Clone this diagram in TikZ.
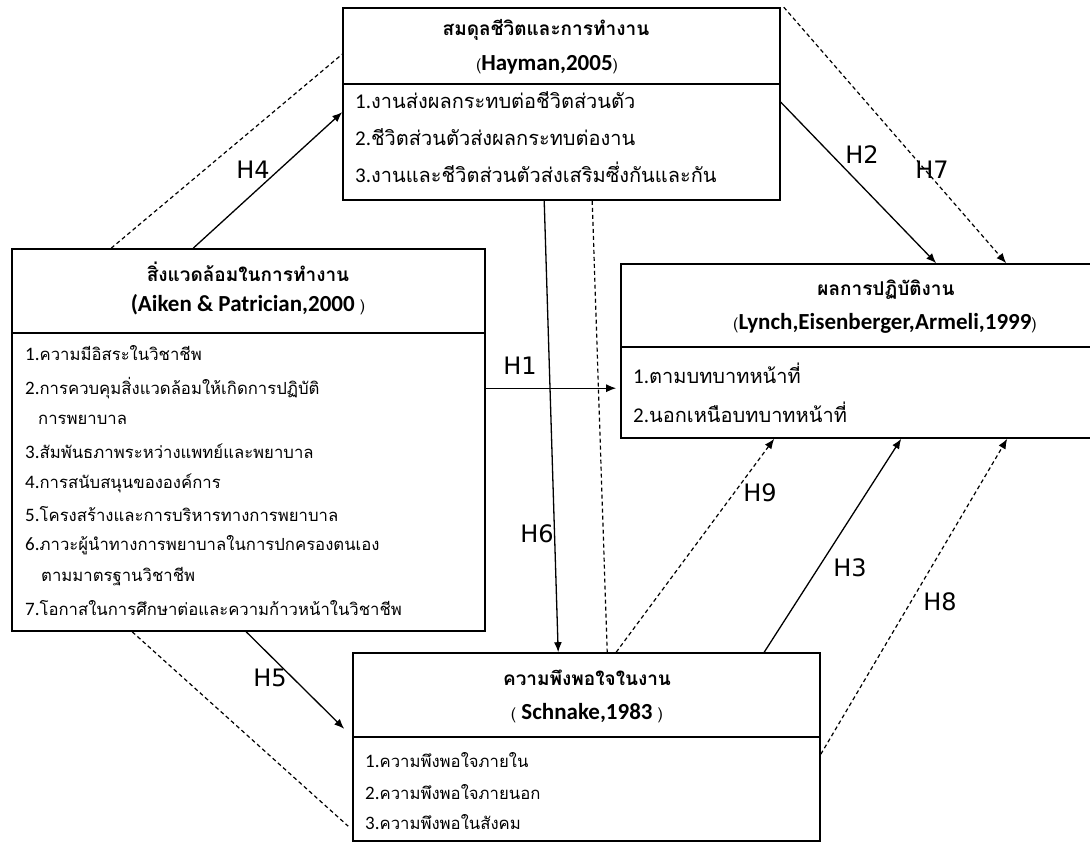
\documentclass[tikz,border=0pt]{standalone}
\usepackage{fontspec}
\setmainfont{Carlito}
\newfontfamily\thaifont[Script=Thai]{Loma}
\newfontfamily\lblfont{DejaVu Sans}
\usetikzlibrary{arrows.meta}

\tikzset{
  box/.style={draw, line width=1.6pt, inner sep=0pt},
  ttl/.style={font=\thaifont\bfseries\fontsize{19}{22}\selectfont, inner sep=0pt},
  ref/.style={font=\bfseries\fontsize{23}{25}\selectfont, inner sep=0pt},
  bigitem/.style={anchor=west, inner sep=0pt, font=\fontsize{21}{24}\selectfont},
  smallitem/.style={anchor=west, inner sep=0pt, font=\fontsize{19}{22}\selectfont},
  hlabel/.style={font=\lblfont\fontsize{24}{26}\selectfont, inner sep=1pt},
  link/.style={line width=1.3pt, -{Latex[length=10pt,width=8pt]}},
  dlink/.style={line width=1.2pt, dash pattern=on 4pt off 3pt},
}
\newcommand{\thb}[1]{{\thaifont\fontsize{20}{24}\selectfont #1}}
\newcommand{\ths}[1]{{\thaifont\fontsize{16.7}{20}\selectfont #1}}
\newcommand{\paren}[1]{{\mdseries\thaifont\fontsize{16}{20}\selectfont #1}}

\begin{document}
\begin{tikzpicture}[x=1pt, y=-1pt]
  \useasboundingbox (0,0) rectangle (1090,843);

  % boxes
  \node[box, minimum width=437, minimum height=76] (wlbh) at (561.5,46) {};
  \node[box, minimum width=437, minimum height=116] (wlbb) at (561.5,142) {};
  \node[box, minimum width=473, minimum height=84] (envh) at (248.5,291) {};
  \node[box, minimum width=473, minimum height=298] (envb) at (248.5,482) {};
  \node[box, minimum width=479, minimum height=83] (perfh) at (860.5,305.5) {};
  \node[box, minimum width=479, minimum height=91] (perfb) at (860.5,392.5) {};
  \node[box, minimum width=467, minimum height=84] (sath) at (586.5,695) {};
  \node[box, minimum width=467, minimum height=104] (satb) at (586.5,789) {};

  % headers
  \node[ttl] (wlbt) at (546,30) {สมดุลชีวิตและการทำงาน};
  \node[ref] (wlbr) at (547,65) {\paren{(}Hayman,2005\paren{)}};
  \node[ttl] (envt) at (248,272) {สิ่งแวดล้อมในการทำงาน};
  \node[ref] (envr) at (248,305) {(Aiken \& Patrician,2000 \paren{)}};
  \node[ttl] (perft) at (886,290) {ผลการปฏิบัติงาน};
  \node[ref] (perfr) at (885,323) {\paren{(}Lynch,Eisenberger,Armeli,1999\paren{)}};
  \node[ttl] (satt) at (587,678) {ความพึงพอใจในงาน};
  \node[ref] (satr) at (587,713) {\paren{(} Schnake,1983 \paren{)}};

  % items
  \node[bigitem] (wlb1) at (355,100) {1.\thb{งานส่งผลกระทบต่อชีวิตส่วนตัว}};
  \node[bigitem] (wlb2) at (355,137) {2.\thb{ชีวิตส่วนตัวส่งผลกระทบต่องาน}};
  \node[bigitem] (wlb3) at (355,172) {3.\thb{งานและชีวิตส่วนตัวส่งเสริมซึ่งกันและกัน}};

  \node[smallitem] (env1) at (25,353) {1.\ths{ความมีอิสระในวิชาชีพ}};
  \node[smallitem] (env2) at (25,388) {2.\ths{การควบคุมสิ่งแวดล้อมให้เกิดการปฏิบัติ}};
  \node[smallitem] (env2b) at (38,420) {\ths{การพยาบาล}};
  \node[smallitem] (env3) at (25,451) {3.\ths{สัมพันธภาพระหว่างแพทย์และพยาบาล}};
  \node[smallitem] (env4) at (25,483) {4.\ths{การสนับสนุนขององค์การ}};
  \node[smallitem] (env5) at (25,514) {5.\ths{โครงสร้างและการบริหารทางการพยาบาล}};
  \node[smallitem] (env6) at (25,545) {6.\ths{ภาวะผู้นำทางการพยาบาลในการปกครองตนเอง}};
  \node[smallitem] (env6b) at (41,577) {\ths{ตามมาตรฐานวิชาชีพ}};
  \node[smallitem] (env7) at (25,608) {7.\ths{โอกาสในการศึกษาต่อและความก้าวหน้าในวิชาชีพ}};

  \node[bigitem] (perf1) at (633,373) {1.\thb{ตามบทบาทหน้าที่}};
  \node[bigitem] (perf2) at (633,412) {2.\thb{นอกเหนือบทบาทหน้าที่}};

  \node[smallitem] (sat1) at (365,760) {1.\ths{ความพึงพอใจภายใน}};
  \node[smallitem] (sat2) at (365,792) {2.\ths{ความพึงพอใจภายนอก}};
  \node[smallitem] (sat3) at (365,822) {3.\ths{ความพึงพอในสังคม}};

  % connectors
  \draw[dlink] ([xshift=100]envh.north west) -- ([yshift=-47]wlbh.north west);
  \draw[link] ([xshift=182]envh.north west) -- ([yshift=-29]wlbb.north west);
  \draw[link] ([yshift=-19]wlbb.north east) -- ([xshift=316]perfh.north west);
  \draw[dlink, -{Latex[length=10pt,width=8pt]}] ([xshift=3]wlbh.north east) -- ([xshift=386]perfh.north west);
  \draw[link, shorten >=4pt] ([yshift=-56]envb.north east) -- ([yshift=-42]perfb.north west);
  \draw[link] ([xshift=202]wlbb.south west) -- ([xshift=206]sath.north west);
  \draw[dlink] ([xshift=250]wlbb.south west) -- ([xshift=255]sath.north west);
  \draw[dlink, -{Latex[length=10pt,width=8pt]}] ([xshift=264]sath.north west) -- ([xshift=154]perfb.south west);
  \draw[link] ([xshift=412]sath.north west) -- ([xshift=281]perfb.south west);
  \draw[dlink, -{Latex[length=10pt,width=8pt]}] ([yshift=-18]satb.north east) -- ([xshift=387]perfb.south west);
  \draw[link] ([xshift=235]envb.south west) -- ([xshift=-8, yshift=9]sath.south west);
  \draw[dlink] ([xshift=121]envb.south west) -- ([xshift=-4, yshift=-90]satb.north west);

  % labels
  \node[hlabel] (h4) at (253,170) {H4};
  \node[hlabel] (h2) at (862,155) {H2};
  \node[hlabel] (h7) at (932,170) {H7};
  \node[hlabel] (h1) at (520,366) {H1};
  \node[hlabel] (h6) at (537,534) {H6};
  \node[hlabel] (h9) at (760,493) {H9};
  \node[hlabel] (h3) at (850,568) {H3};
  \node[hlabel] (h8) at (940,602) {H8};
  \node[hlabel] (h5) at (270,678) {H5};
\end{tikzpicture}
\end{document}
